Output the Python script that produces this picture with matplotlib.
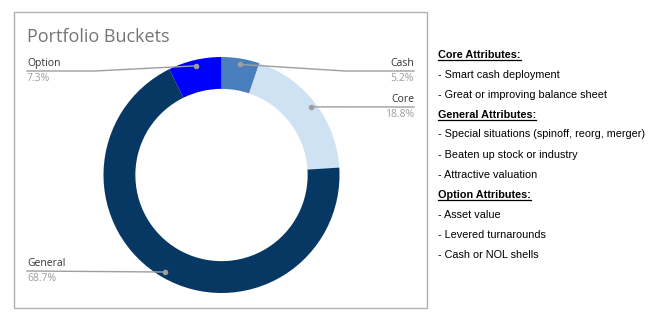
import matplotlib
matplotlib.use('Agg')

import numpy as np
from matplotlib import pyplot as plt
from matplotlib.patches import Rectangle

# data
buckets = ['Cash', 'Core', 'General', 'Option']
shares = [5.2, 18.8, 68.7, 7.3]
colors = ['#4a7fbd', '#cfe2f3', '#073763', '#0000ff']

notes = [
    ('Core Attributes:', True),
    ('- Smart cash deployment', False),
    ('- Great or improving balance sheet', False),
    ('General Attributes:', True),
    ('- Special situations (spinoff, reorg, merger)', False),
    ('- Beaten up stock or industry', False),
    ('- Attractive valuation', False),
    ('Option Attributes:', True),
    ('- Asset value', False),
    ('- Levered turnarounds', False),
    ('- Cash or NOL shells', False),
]

W, H = 652, 323
fig = plt.figure(figsize=(W / 100, H / 100), dpi=100)

# chart frame
fig.patches.append(Rectangle((14 / W, (H - 308) / H), 413 / W, 296 / H,
                             transform=fig.transFigure, fill=False,
                             edgecolor='#b0b0b0', linewidth=1))

fig.text(27 / W, 1 - 37 / H, 'Portfolio Buckets', fontsize=13, color='#757575',
         family='Open Sans', va='center', ha='left')

# donut
cx, cy, R = 221.5, 175, 118
ax = fig.add_axes([(cx - R) / W, (H - cy - R) / H, 2 * R / W, 2 * R / H])
ax.pie(shares, colors=colors, startangle=90, counterclock=False,
       wedgeprops=dict(width=0.27, linewidth=0))
ax.set_xlim(-1, 1)
ax.set_ylim(-1, 1)
ax.set_aspect('equal')
ax.axis('off')

def px(x, y):
    return (x - cx) / R, (cy - y) / R

# label geometry (x of label, y of line in pixels, elbow x or None, side)
layout = {
    'Cash': (414, 71, 345, 'right'),
    'Core': (414, 107, None, 'right'),
    'General': (27, 271, None, 'left'),
    'Option': (27, 71, 95, 'left'),
}

cum = np.cumsum([0] + shares)
for i, name in enumerate(buckets):
    mid = 90 - (cum[i] + shares[i] / 2) * 3.6
    dx = 0.95 * np.cos(np.radians(mid))
    dy = 0.95 * np.sin(np.radians(mid))
    lx, ly, ex, side = layout[name]
    end = px(lx, ly)
    pts = [(dx, dy)]
    if ex is not None:
        pts.append(px(ex, ly))
    pts.append(end)
    xs, ys = zip(*pts)
    ax.plot(xs, ys, color='#9e9e9e', lw=1, clip_on=False)
    ax.plot([dx], [dy], 'o', color='#9e9e9e', ms=3, clip_on=False)
    ax.text(end[0], end[1] + 2 / R, name, ha=side, va='bottom', fontsize=7.5,
            color='#333333', family='Open Sans', clip_on=False)
    ax.text(end[0], end[1] - 2 / R, f'{shares[i]:.1f}%', ha=side, va='top',
            fontsize=7.5, color='#9e9e9e', family='Open Sans', clip_on=False)

# side notes
fig.canvas.draw()
renderer = fig.canvas.get_renderer()
for k, (line, header) in enumerate(notes):
    y = 54.5 + 20 * k
    t = fig.text(438 / W, 1 - y / H, line, fontsize=7.8, family='Liberation Sans',
                 weight='bold' if header else 'normal', color='black',
                 va='center', ha='left')
    if header:
        bb = t.get_window_extent(renderer)
        uy = (H - y - 5) / H
        fig.add_artist(plt.Line2D([bb.x0 / W, bb.x1 / W], [uy, uy],
                                  transform=fig.transFigure, color='black', lw=0.9))

fig.savefig('out.png', dpi=100)
